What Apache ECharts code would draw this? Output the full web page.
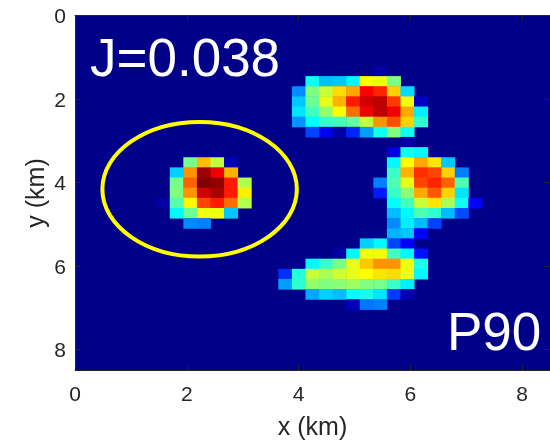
<!DOCTYPE html>
<html>
<head>
<meta charset="utf-8">
<style>html,body{margin:0;padding:0;background:#fff}#c{width:550px;height:440px}</style>
<script src="https://cdn.jsdelivr.net/npm/echarts@6/dist/echarts.min.js"></script>
</head>
<body>
<div id="c"></div>
<script>
var gridSize = 35;
// [row, first column, values...]
var blobTop = [
  [5, 22, .03],
  [6, 17, .39, .31, .32, .37, .625, .61, .5],
  [7, 16, .26, .5, .57, .66, .71, .875, .84, .67, .34],
  [8, 16, .32, .48, .6, .7, .85, .92, .94, .82, .61, .06],
  [9, 16, .35, .44, .52, .625, .77, .89, .94, .89, .71, .36],
  [10, 16, .27, .375, .43, .44, .47, .57, .73, .8, .67, .42],
  [11, 17, .19, .11, .03, .16, .28, .39, .5, .39],
  [12, 24, .02]
];
var blobLeft = [
  [14, 8, .49, .69, .56, .05],
  [15, 7, .33, .73, .97, .89, .7],
  [16, 7, .49, .78, 1, .98, .85, .55],
  [17, 7, .5, .73, .92, .96, .85, .64],
  [18, 6, .03, .46, .63, .81, .85, .77, .55],
  [19, 7, .37, .48, .61, .61, .32],
  [20, 8, .26, .25]
];
var blobRight = [
  [12, 24, .03],
  [13, 23, .09, .39, .37],
  [14, 23, .37, .625, .71, .65, .32],
  [15, 23, .43, .7, .83, .81, .67, .25],
  [16, 22, .25, .45, .6, .81, .84, .78, .45],
  [17, 22, .15, .43, .51, .71, .79, .67, .35],
  [18, 23, .375, .44, .57, .65, .54, .39, .125],
  [19, 23, .31, .37, .45, .42, .31, .2],
  [20, 23, .26, .36, .31, .19],
  [21, 23, .3, .32, .125]
];
var blobBottom = [
  [22, 21, .33, .37, .19, .12],
  [23, 19, .03, .37, .61, .61, .44, .37, .14],
  [24, 16, .01, .37, .43, .49, .6, .68, .73, .73, .61, .4],
  [25, 15, .17, .41, .57, .54, .58, .6, .625, .65, .66, .61, .37],
  [26, 15, .28, .42, .52, .5, .51, .53, .5, .49, .43, .36],
  [27, 17, .29, .33, .31, .38, .4, .35, .18, .04],
  [28, 20, .05, .24, .25]
];
var circleMark = [[2.23, 4.16, 1.74, 1.61]];
var jetStops = ['#000088', '#0000ff', '#0080ff', '#00ffff', '#80ff80', '#ffff00', '#ff8000', '#ff0000', '#800000'];

var cats = [];
for (var i = 0; i < gridSize; i++) cats.push(i);
var heat = [];
[blobTop, blobLeft, blobRight, blobBottom].forEach(function (b) {
  b.forEach(function (row) {
    for (var k = 2; k < row.length; k++) heat.push([row[1] + k - 2, row[0], row[k]]);
  });
});
heat.sort(function (a, b) { return a[1] - b[1] || a[0] - b[0]; });

var ink = '#262626';
var font = '"Liberation Sans", Arial, sans-serif';
function valAxis(extra) {
  return Object.assign({
    type: 'value', min: 0, max: 8.5, interval: 2, z: 10,
    splitLine: { show: false },
    axisLine: { show: true, onZero: false, lineStyle: { color: ink, width: 1 } },
    axisTick: { show: true, inside: true, length: 5, lineStyle: { color: ink, width: 1 } },
    axisLabel: { show: false }
  }, extra);
}
var chart = echarts.init(document.getElementById('c'), null, { renderer: 'canvas' });
chart.setOption({
  animation: false,
  backgroundColor: '#fff',
  grid: { left: 75, top: 15.5, width: 475, height: 355, containLabel: false, outerBoundsMode: 'none',
    show: true, backgroundColor: jetStops[0], borderWidth: 0 },
  xAxis: [
    valAxis({ position: 'bottom', name: 'x (km)', nameLocation: 'middle', nameGap: 45,
      nameTextStyle: { color: ink, fontSize: 25, fontFamily: font },
      axisLabel: { show: true, color: ink, fontSize: 21, fontFamily: font, margin: 14, showMaxLabel: false } }),
    valAxis({ position: 'top' }),
    { type: 'category', data: cats, show: false }
  ],
  yAxis: [
    valAxis({ position: 'left', inverse: true, name: 'y (km)', nameLocation: 'middle', nameGap: 25, nameMoveOverlap: false,
      nameTextStyle: { color: ink, fontSize: 25, fontFamily: font },
      axisLabel: { show: true, color: ink, fontSize: 21, fontFamily: font, margin: 9, verticalAlign: 'top', lineHeight: 4, showMaxLabel: false } }),
    valAxis({ position: 'right', inverse: true }),
    { type: 'category', data: cats, show: false, inverse: true }
  ],
  visualMap: { show: false, type: 'continuous', min: 0, max: 1, seriesIndex: 0, dimension: 2, inRange: { color: jetStops } },
  series: [
    { type: 'heatmap', xAxisIndex: 2, yAxisIndex: 2, data: heat, z: 2, progressive: 0,
      itemStyle: { borderWidth: 0 }, emphasis: { disabled: true } },
    { type: 'custom', xAxisIndex: 0, yAxisIndex: 0, z: 6, clip: false, silent: true,
      data: circleMark,
      renderItem: function (params, api) {
        var p = api.coord([api.value(0), api.value(1)]);
        var s = api.size([api.value(2), api.value(3)]);
        return { type: 'ellipse', shape: { cx: p[0], cy: p[1], rx: s[0], ry: s[1] },
          style: { fill: null, stroke: '#ffff00', lineWidth: 4 } };
      } }
  ],
  graphic: [
    { type: 'text', z: 100, left: 90, top: 35, style: { text: 'J=0.038', fill: '#fff', font: '53px ' + font } },
    { type: 'text', z: 100, left: 447, top: 309, style: { text: 'P90', fill: '#fff', font: '53px ' + font } }
  ]
});
</script>
</body>
</html>
